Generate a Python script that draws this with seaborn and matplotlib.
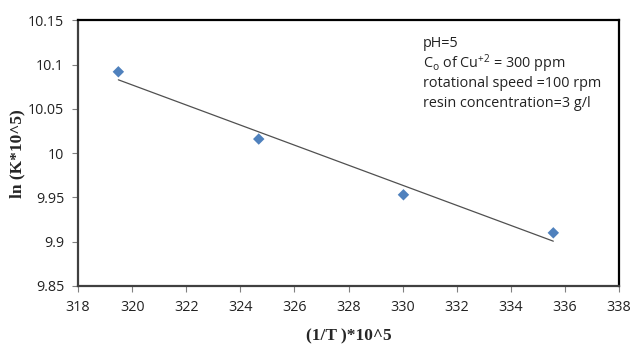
import numpy as np
import pandas as pd
import matplotlib
matplotlib.use("Agg")
import matplotlib.pyplot as plt
import seaborn as sns

# Data
inv_T = [319.49, 324.68, 330.03, 335.57]        # (1/T)*10^5
ln_K = [10.092, 10.016, 9.953, 9.910]           # ln(K*10^5)
x_ticks = [318, 320, 322, 324, 326, 328, 330, 332, 334, 336, 338]
y_ticks = [9.85, 9.9, 9.95, 10.0, 10.05, 10.1, 10.15]
y_tick_labels = ["9.85", "9.9", "9.95", "10", "10.05", "10.1", "10.15"]
notes = ["pH=5",
         r"C$_\mathregular{o}$ of Cu$^\mathregular{+2}$ = 300 ppm",
         "rotational speed =100 rpm",
         "resin concentration=3 g/l"]

sns.set_theme(style="white")
plt.rcParams['font.family'] = ['Open Sans', 'DejaVu Sans']
plt.rcParams['mathtext.default'] = 'regular'

df = pd.DataFrame({"x": inv_T, "y": ln_K})

fig = plt.figure(figsize=(6.32, 3.47), dpi=100)
ax = fig.add_axes([0.1235, 0.176, 0.856, 0.765])

# trend line (linear fit over data range)
sns.regplot(data=df, x="x", y="y", ax=ax, ci=None, scatter=False,
            line_kws=dict(color="#505050", lw=0.9))
sns.scatterplot(data=df, x="x", y="y", ax=ax, marker="D", s=34,
                color="#4F81BD", edgecolor="none", zorder=3)

ax.set_xlim(318, 338)
ax.set_ylim(9.85, 10.15)
ax.set_xticks(x_ticks)
ax.set_xticklabels([str(t) for t in x_ticks])
ax.set_yticks(y_ticks)
ax.set_yticklabels(y_tick_labels)
ax.tick_params(axis="both", which="major", direction="out", length=4,
               width=0.8, color="#808080", labelsize=10.3,
               labelcolor="#222222", pad=6, bottom=True, left=True)

for side in ["top", "right"]:
    ax.spines[side].set_color("black")
    ax.spines[side].set_linewidth(1.6)
for side in ["left", "bottom"]:
    ax.spines[side].set_color("#404040")
    ax.spines[side].set_linewidth(1.6)

ax.set_xlabel("(1/T )*10^5", family=["Liberation Serif"], fontweight="bold",
              fontsize=12.5, labelpad=10)
ax.set_ylabel("ln (K*10^5)", family=["Liberation Serif"], fontweight="bold",
              fontsize=12.5, labelpad=2)

y0 = 0.913
for i, line in enumerate(notes):
    ax.text(0.638, y0 - i * 0.0755, line, transform=ax.transAxes,
            fontsize=10.4, color="#222222", va="center", ha="left")

fig.savefig("out.png", dpi=100)
